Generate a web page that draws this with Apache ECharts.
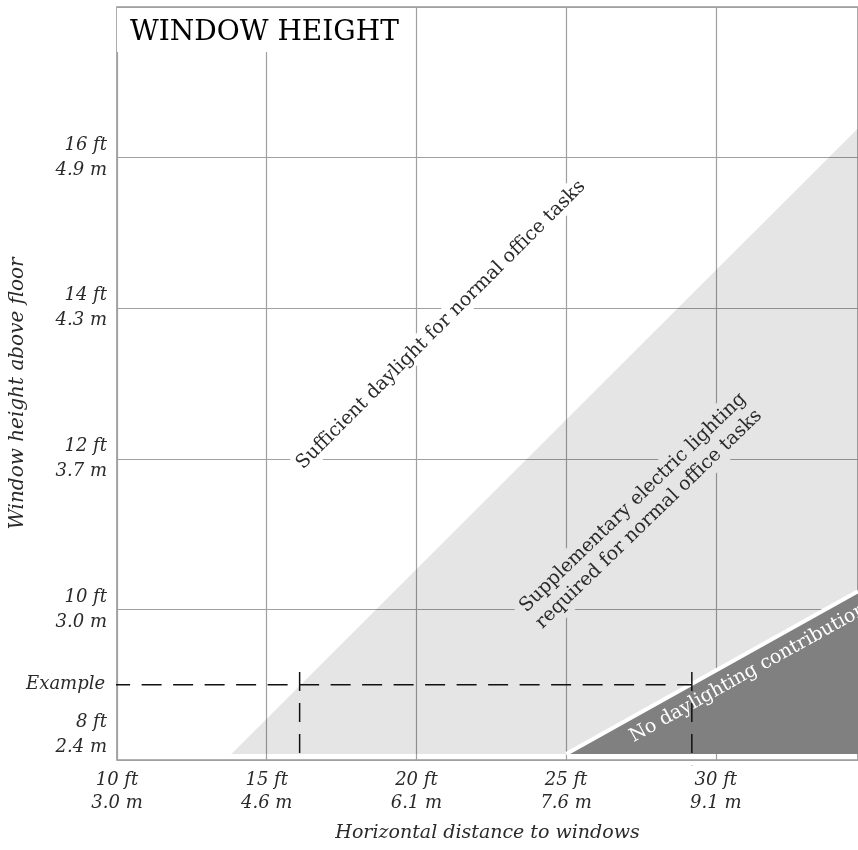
<!DOCTYPE html>
<html><head><meta charset="utf-8">
<script src="https://cdn.jsdelivr.net/npm/echarts@6/dist/echarts.min.js"></script>
<style>html,body{margin:0;padding:0;background:#fff}#c{width:858px;height:850px}</style>
</head><body><div id="c"></div>
<script>
// ---- data ----
const xTicksFt = [10, 15, 20, 25, 30];
const xTicksM = ['3.0', '4.6', '6.1', '7.6', '9.1'];
const yTicksFt = [8, 10, 12, 14, 16];
const yTicksM = ['2.4', '3.0', '3.7', '4.3', '4.9'];
// boundary of "supplementary lighting" zone (distance ft, height ft)
const supplementDist = [13.82, 34.75];
const supplementHeight = [8.08, 16.39];
// boundary of "no daylighting contribution" zone
const noDaylightDist = [25.0, 34.75];
const noDaylightHeight = [8.08, 10.24];
// example reading
const exampleHeight = 9;
const exampleDistances = [16.1, 29.2];
const exampleLineStart = 9.77;
const exampleTop = 9.17;
const exampleBottoms = [8.0, 7.93];

const FONT = "'DejaVu Serif', serif";
const TXT = '#2a2a2a';

const chart = echarts.init(document.getElementById('c'), null, {renderer: 'canvas'});

function ftLabelX(v) {
  const i = xTicksFt.indexOf(v);
  return i < 0 ? '' : v + ' ft\n' + xTicksM[i] + ' m';
}
function ftLabelY(v) {
  const i = yTicksFt.indexOf(v);
  if (i < 0) return '';
  if (v === 8) return v + ' ft\n' + yTicksM[i] + ' m\n\n';
  return v + ' ft\n' + yTicksM[i] + ' m';
}

const series = [
  {
    type: 'line', name: 'supplementary', z: 1,
    data: supplementDist.map((d, i) => [d, supplementHeight[i]]),
    symbol: 'none', lineStyle: {width: 0},
    areaStyle: {color: 'rgba(0,0,0,0.1)', origin: 8.08, opacity: 1},
    silent: true
  },
  {
    type: 'line', name: 'none', z: 3,
    data: noDaylightDist.map((d, i) => [d, noDaylightHeight[i]]),
    symbol: 'none', lineStyle: {width: 4, color: '#fff'},
    areaStyle: {color: '#808080', origin: 8.08, opacity: 1},
    silent: true
  },
  {
    type: 'line', name: 'exampleH', z: 10, clip: false,
    data: [[exampleLineStart, exampleHeight], [exampleDistances[1], exampleHeight]],
    symbol: 'none', lineStyle: {color: '#111', width: 1.5, type: [20, 11.5]},
    silent: true
  },
  {
    type: 'scatter', name: 'exampleLabel', z: 10, clip: false,
    data: [[exampleLineStart, exampleHeight]],
    symbolSize: 0, itemStyle: {color: '#111', opacity: 1},
    label: {show: true, position: 'left', distance: 5, formatter: 'Example',
      fontFamily: FONT, fontStyle: 'italic', fontSize: 18, color: TXT, opacity: 1},
    silent: true
  }
];
exampleDistances.forEach((d, i) => {
  series.push({
    type: 'line', name: 'exampleV' + i, z: 10, clip: false,
    data: [[d, exampleTop], [d, exampleBottoms[i]]],
    symbol: 'none', lineStyle: {color: '#111', width: 1.5, type: [19, 12]},
    silent: true
  });
});

chart.setOption({
  animation: false,
  backgroundColor: '#fff',
  title: {
    text: 'WINDOW HEIGHT', left: 117, top: 8, z: 20,
    padding: [11, 0, 4, 13],
    textStyle: {fontFamily: FONT, fontWeight: 'normal', fontSize: 28, color: '#000'}
  },
  grid: {left: 115, right: -2, top: 7, bottom: 90, show: true, borderColor: '#999', borderWidth: 1.6, backgroundColor: 'transparent'},
  xAxis: {
    type: 'value', min: 10, max: 34.75, interval: 5,
    axisLine: {show: false}, axisTick: {show: false},
    splitLine: {show: true, lineStyle: {color: '#a0a0a0', width: 1.2}},
    axisLabel: {formatter: ftLabelX, fontFamily: FONT, fontStyle: 'italic', fontSize: 18, color: TXT, lineHeight: 23, margin: 9, showMaxLabel: false},
    name: 'Horizontal distance to windows', nameLocation: 'middle', nameGap: 64,
    nameTextStyle: {fontFamily: FONT, fontStyle: 'italic', fontSize: 19, color: TXT}
  },
  yAxis: {
    type: 'value', min: 8, max: 18, interval: 2,
    axisLine: {show: false}, axisTick: {show: false},
    splitLine: {show: true, lineStyle: {color: '#a0a0a0', width: 1.2}},
    axisLabel: {formatter: ftLabelY, fontFamily: FONT, fontStyle: 'italic', fontSize: 18, color: TXT, lineHeight: 25, margin: 10, padding: [5, 0, 0, 0]},
    name: 'Window height above floor', nameLocation: 'middle', nameGap: 89,
    nameTextStyle: {fontFamily: FONT, fontStyle: 'italic', fontSize: 20, color: TXT, padding: [0, 20, 0, 0]}
  },
  series: series,
  graphic: [
    {type: 'rect', shape: {x: 117, y: 8, width: 288, height: 44}, z: 15, silent: true,
      style: {fill: '#fff'}},
    {type: 'text', x: 441, y: 325, rotation: Math.PI / 4, z: 50,
      style: {text: 'Sufficient daylight for normal office tasks', fontFamily: FONT, fontSize: 19, fill: TXT,
        align: 'center', verticalAlign: 'middle', backgroundColor: '#fff', padding: [2, 6]}},
    {type: 'text', x: 641, y: 511, rotation: 44 * Math.PI / 180, z: 50,
      style: {text: 'Supplementary electric lighting\nrequired for normal office tasks', fontFamily: FONT, fontSize: 19, fill: TXT,
        align: 'center', verticalAlign: 'middle', lineHeight: 23, backgroundColor: '#e5e5e5', padding: [2, 6]}},
    {type: 'text', x: 631, y: 738, rotation: 29 * Math.PI / 180, z: 50,
      style: {text: 'No daylighting contribution', fontFamily: FONT, fontSize: 19, fill: '#fff',
        align: 'left', verticalAlign: 'middle'}}
  ]
});
</script></body></html>
